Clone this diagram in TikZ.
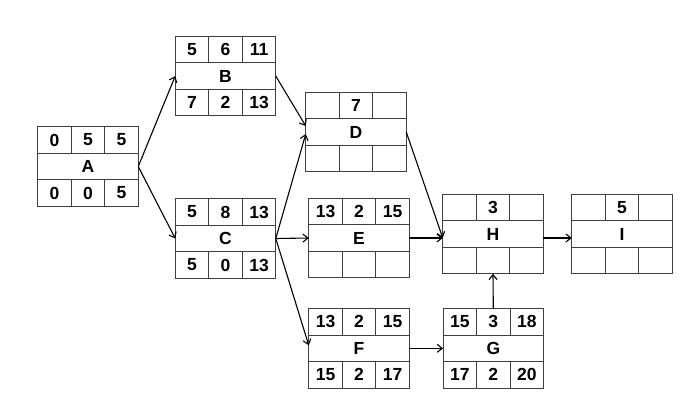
\documentclass[tikz,border=0pt]{standalone}
\usepackage{fontspec}
\setmainfont{Liberation Sans}
\usetikzlibrary{positioning,arrows.meta}

\tikzset{
  midrow/.style={draw=black!75,line width=0.9pt,minimum width=100.5pt,minimum height=26.5pt,inner sep=0pt,outer sep=0pt},
  cell/.style={draw=black!75,line width=0.9pt,minimum width=33.5pt,minimum height=26.5pt,inner sep=0pt,outer sep=0pt},
  link/.style={->,line width=1.1pt}
}

% one activity: name, position, top cells, label, bottom cells
\newcommand{\actbox}[9]{%
  \node[midrow] (#1) at (#2) {#6};
  \node[cell,anchor=south west] (#1-t1) at (#1.north west) {#3};
  \node[cell,right=0pt of #1-t1] (#1-t2) {#4};
  \node[cell,right=0pt of #1-t2] (#1-t3) {#5};
  \node[cell,anchor=north west] (#1-b1) at (#1.south west) {#7};
  \node[cell,right=0pt of #1-b1] (#1-b2) {#8};
  \node[cell,right=0pt of #1-b2] (#1-b3) {#9};
}

\begin{document}
\begin{tikzpicture}[x=1pt,y=-1pt,>={Straight Barb[length=5pt,width=8pt]},
  font=\fontsize{17.5}{20}\selectfont\bfseries]
  \useasboundingbox[fill=white] (0,0) rectangle (695,410);

  \actbox{A}{88,166.5}{0}{5}{5}{A}{0}{0}{5}
  \actbox{B}{225.5,76}{5}{6}{11}{B}{7}{2}{13}
  \actbox{C}{225.5,238.5}{5}{8}{13}{C}{5}{0}{13}
  \actbox{D}{356,132}{}{7}{}{D}{}{}{}
  \actbox{E}{359,238}{13}{2}{15}{E}{}{}{}
  \actbox{F}{359,348.3}{13}{2}{15}{F}{15}{2}{17}
  \actbox{G}{493.3,348.3}{15}{3}{18}{G}{17}{2}{20}
  \actbox{H}{493,234}{}{3}{}{H}{}{}{}
  \actbox{I}{622,234}{}{5}{}{I}{}{}{}

  \draw[link] (A.east) -- (B.west);
  \draw[link] (A.east) -- (C.west);
  \draw[link] (B.east) -- ([yshift=6pt]D.west);
  \draw[link] (C.east) -- ([yshift=-2pt]D.west);
  \draw[link] (C.east) -- (E.west);
  \draw[link] (C.east) -- ([yshift=3pt]F.west);
  \draw[link] (D.east) -- (E.east -| H.west);
  \draw[link] (E.east) -- (E.east -| H.west);
  \draw[link] (F.east) -- (G.west);
  \draw[link] (G-t2.north) -- (H-b2.south);
  \draw[link] (H.east |- E.east) -- (E.east -| I.west);
\end{tikzpicture}
\end{document}
